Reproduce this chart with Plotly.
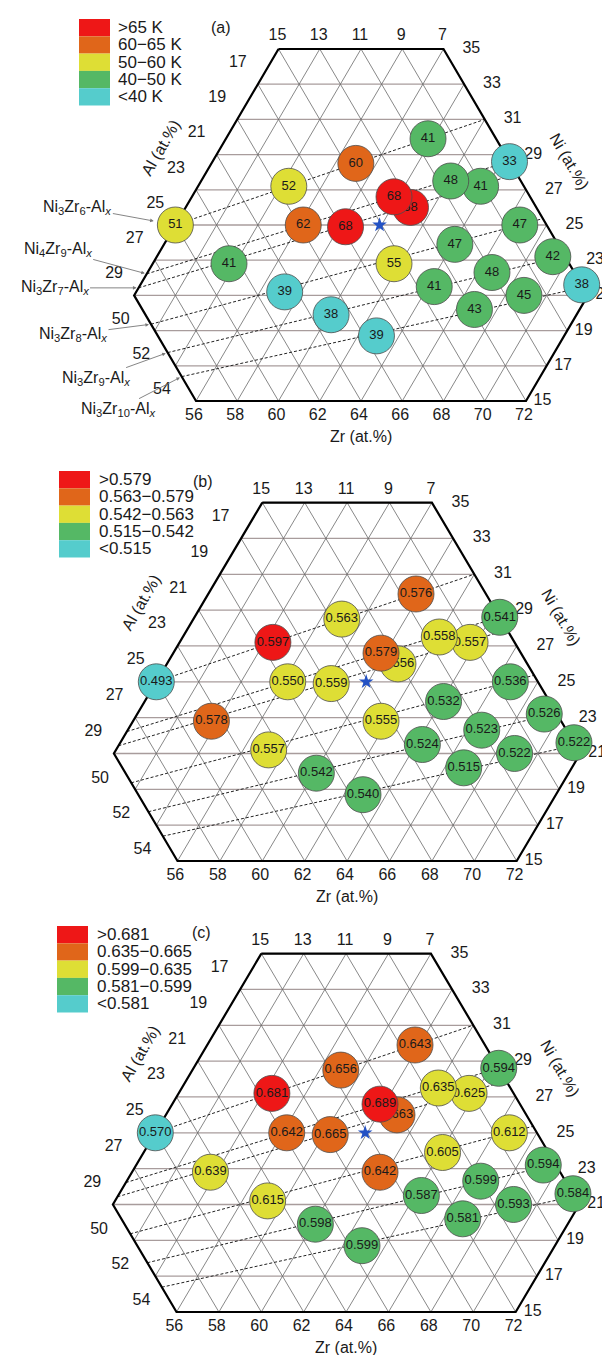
import plotly.graph_objects as go

W, H = 610, 1355
FONT = "Liberation Sans, Arial, sans-serif"

# ---------------- data ----------------
# composition window of the diagram (at.%)
ZR_RANGE = (50, 72)
NI_RANGE = (15, 35)
AL_RANGE = (7, 29)
GRID_STEP = 2

# tick labels
ni_ticks = [35, 33, 31, 29, 27, 25, 23, 21, 19, 17, 15]
al_top_ticks = [15, 13, 11, 9, 7]
al_left_ticks = [17, 19, 21, 23, 25, 27, 29]
zr_left_ticks = [50, 52, 54]
zr_bottom_ticks = [56, 58, 60, 62, 64, 66, 68, 70, 72]

# Ni_a Zr_b - Al_x composition lines
line_labels = ["Ni<sub>3</sub>Zr<sub>6</sub>-Al<sub><i>x</i></sub>",
               "Ni<sub>4</sub>Zr<sub>9</sub>-Al<sub><i>x</i></sub>",
               "Ni<sub>3</sub>Zr<sub>7</sub>-Al<sub><i>x</i></sub>",
               "Ni<sub>3</sub>Zr<sub>8</sub>-Al<sub><i>x</i></sub>",
               "Ni<sub>3</sub>Zr<sub>9</sub>-Al<sub><i>x</i></sub>",
               "Ni<sub>3</sub>Zr<sub>10</sub>-Al<sub><i>x</i></sub>"]
line_ni = [3, 4, 3, 3, 3, 3]
line_zr = [6, 9, 7, 8, 9, 10]

# sample compositions (at.%), in drawing order
sample_zr = [50.0, 54.4, 56.2, 57.0, 59.8, 64.4, 63.7, 62.1, 60.9, 59.8, 58.3, 66.7,
             64.1, 69.2, 61.7, 66.7, 71.4, 64.3, 68.9, 66.9, 60.1, 62.9, 53.7, 57.2]
sample_ni = [25.0, 27.2, 25.0, 28.5, 29.9, 28.6, 27.2, 27.5, 26.0, 26.6, 24.9, 25.0,
             23.9, 23.2, 22.8, 22.3, 21.6, 21.5, 21.0, 20.2, 19.9, 18.7, 22.8, 21.2]

# (a) Tc (K)
vals_a = [51, 52, 62, 60, 41, 33, 41, 48, 68, 68, 68, 47,
          47, 42, 55, 48, 38, 41, 45, 43, 38, 39, 41, 39]
cls_a = [2, 2, 1, 1, 3, 4, 3, 3, 0, 0, 0, 3,
         3, 3, 2, 3, 4, 3, 3, 3, 4, 4, 3, 4]
# (b)
vals_b = [0.493, 0.597, 0.550, 0.563, 0.576, 0.541, 0.557, 0.558, 0.556, 0.579, 0.559, 0.536,
          0.532, 0.526, 0.555, 0.523, 0.522, 0.524, 0.522, 0.515, 0.542, 0.540, 0.578, 0.557]
cls_b = [4, 0, 2, 2, 1, 3, 2, 2, 2, 1, 2, 3,
         3, 3, 2, 3, 3, 3, 3, 3, 3, 3, 1, 2]
# (c)
vals_c = [0.570, 0.681, 0.642, 0.656, 0.643, 0.594, 0.625, 0.635, 0.663, 0.689, 0.665, 0.612,
          0.605, 0.594, 0.642, 0.599, 0.584, 0.587, 0.593, 0.581, 0.598, 0.599, 0.639, 0.615]
cls_c = [4, 0, 1, 1, 1, 3, 2, 2, 1, 0, 1, 2,
         2, 3, 1, 3, 3, 3, 3, 3, 3, 3, 2, 2]

legend_a = [">65 K", "60\u221265 K", "50\u221260 K", "40\u221250 K", "<40 K"]
legend_b = [">0.579", "0.563\u22120.579", "0.542\u22120.563", "0.515\u22120.542", "<0.515"]
legend_c = [">0.681", "0.635\u22120.665", "0.599\u22120.635", "0.581\u22120.599", "<0.581"]

star_zr, star_ni = 59.9, 25.0

class_colors = ["#EE1717", "#E0661A", "#DEDE35", "#55B865", "#55CCCC"]

# ---------------- geometry helpers ----------------
def to_xy(zr, ni):
    k = (ni - NI_RANGE[0]) / GRID_STEP
    return zr + k, k


def clip_line(p0, d):
    bounds = [ZR_RANGE, NI_RANGE, AL_RANGE]
    lo, hi = -1e9, 1e9
    for i in range(3):
        a, b = bounds[i]
        if abs(d[i]) < 1e-12:
            if p0[i] < a - 1e-9 or p0[i] > b + 1e-9:
                return None
            continue
        t1 = (a - p0[i]) / d[i]
        t2 = (b - p0[i]) / d[i]
        lo = max(lo, min(t1, t2))
        hi = min(hi, max(t1, t2))
    if hi - lo < 1e-9:
        return None
    return [tuple(p0[j] + t * d[j] for j in range(3)) for t in (lo, hi)]


def seg_xy(seg):
    return [to_xy(c[0], c[1]) for c in seg]


zmin, zmax = ZR_RANGE
nmin, nmax = NI_RANGE
amin, amax = AL_RANGE
hex_comp = [(zmin, nmax), (100 - nmax - amin, nmax), (zmax, 100 - zmax - amin),
            (zmax, nmin), (100 - nmin - amax, nmin), (zmin, 100 - zmin - amax), (zmin, nmax)]

# panel pixel calibration (origin = Zr 56 / Ni 15 corner)
panels = [
    dict(ox=188.0, ux=20.625, oy=393.0, uk=35.2, top=0, bot=440,
         vals=vals_a, cls=cls_a, fmt="{:d}", legend=legend_a, tag="(a)",
         leg_x=71, leg_y=11, leg_tx=108, arrows=True),
    dict(ox=169.5, ux=21.2, oy=853.0, uk=35.84, top=440, bot=897,
         vals=vals_b, cls=cls_b, fmt="{:.3f}", legend=legend_b, tag="(b)",
         leg_x=51, leg_y=463, leg_tx=89, arrows=False),
    dict(ox=168.5, ux=21.2, oy=1304.0, uk=35.84, top=897, bot=1355,
         vals=vals_c, cls=cls_c, fmt="{:.3f}", legend=legend_c, tag="(c)",
         leg_x=49, leg_y=918, leg_tx=87, arrows=False),
]

fig = go.Figure()
layout = dict(width=W, height=H, margin=dict(l=0, r=0, t=0, b=0),
              paper_bgcolor="white", plot_bgcolor="white", showlegend=False,
              font=dict(family=FONT, color="#1a1a1a"))
shapes, annotations = [], []

# arrow offsets for labels of composition lines (pixels, text centre relative to line start)
arrow_ax = [-98, -89, -84, -78, -72, -64]
arrow_ay = [-18, -24, 0, 10, 26, 33]
arrow_standoff = [22, 2, 2, 2, 2, 2]

for p_i, P in enumerate(panels):
    sfx = "" if p_i == 0 else str(p_i + 1)
    xr = [56 - P["ox"] / P["ux"], 56 + (W - P["ox"]) / P["ux"]]
    yr = [(P["oy"] - P["bot"]) / P["uk"], (P["oy"] - P["top"]) / P["uk"]]
    layout["xaxis" + sfx] = dict(domain=[0, 1], range=xr, visible=False, fixedrange=True,
                                 anchor="y" + sfx)
    layout["yaxis" + sfx] = dict(domain=[1 - P["bot"] / H, 1 - P["top"] / H], range=yr,
                                 visible=False, fixedrange=True, anchor="x" + sfx)
    xa, ya = "x" + sfx, "y" + sfx

    # grid lines
    hx, hy, dx_, dy_ = [], [], [], []
    for c in range(nmin, nmax + 1, GRID_STEP):
        s = clip_line((0, c, 100 - c), (1, 0, -1))
        if s:
            pts = seg_xy(s)
            hx += [pts[0][0], pts[1][0], None]
            hy += [pts[0][1], pts[1][1], None]
    for c in range(zmin, zmax + 1, GRID_STEP):
        s = clip_line((c, 0, 100 - c), (0, 1, -1))
        if s:
            pts = seg_xy(s)
            dx_ += [pts[0][0], pts[1][0], None]
            dy_ += [pts[0][1], pts[1][1], None]
    for c in range(amin, amax + 1, GRID_STEP):
        s = clip_line((0, 100 - c, c), (1, -1, 0))
        if s:
            pts = seg_xy(s)
            dx_ += [pts[0][0], pts[1][0], None]
            dy_ += [pts[0][1], pts[1][1], None]
    fig.add_trace(go.Scatter(x=hx, y=hy, mode="lines", xaxis=xa, yaxis=ya,
                             line=dict(color="#a89c9c", width=1.3), hoverinfo="skip"))
    fig.add_trace(go.Scatter(x=dx_, y=dy_, mode="lines", xaxis=xa, yaxis=ya,
                             line=dict(color="#6a6a6a", width=0.8), hoverinfo="skip"))

    # dashed composition lines
    starts = []
    lx, ly = [], []
    for a, b in zip(line_ni, line_zr):
        s = clip_line((0, 0, 100), (b, a, -(a + b)))
        pts = seg_xy(s)
        starts.append(pts[0])
        lx += [pts[0][0], pts[1][0], None]
        ly += [pts[0][1], pts[1][1], None]
    fig.add_trace(go.Scatter(x=lx, y=ly, mode="lines", xaxis=xa, yaxis=ya,
                             line=dict(color="#222222", width=1, dash="3px,2px"),
                             hoverinfo="skip"))

    # hexagon outline
    hxy = [to_xy(z, n) for z, n in hex_comp]
    fig.add_trace(go.Scatter(x=[q[0] for q in hxy], y=[q[1] for q in hxy], mode="lines",
                             xaxis=xa, yaxis=ya, line=dict(color="black", width=2.2),
                             hoverinfo="skip"))

    # tick labels
    tx, ty, tt = [], [], []
    for ni in ni_ticks:
        k = (ni - nmin) / GRID_STEP
        x_up = (100 - ni - amin) + k
        x_lo = zmax + k
        if x_up < x_lo:
            tx.append(x_up + 1.35)
        elif x_up == x_lo:
            tx.append(x_up + 0.8)
        else:
            tx.append(x_lo + 0.8)
        ty.append(k)
        tt.append(str(ni))
    for al in al_left_ticks:
        x, k = to_xy(zmin, 100 - zmin - al)
        tx.append(x - 0.97); ty.append(k + 0.6); tt.append(str(al))
    for al in al_top_ticks:
        x, k = to_xy(100 - nmax - al, nmax)
        tx.append(x - 0.05); ty.append(k + 0.36); tt.append(str(al))
    for zr in zr_left_ticks:
        x, k = to_xy(zr, 100 - zr - amax)
        tx.append(x - 0.65); ty.append(k - 0.7); tt.append(str(zr))
    for zr in zr_bottom_ticks:
        x, k = to_xy(zr, nmin)
        tx.append(x - 0.1); ty.append(k - 0.43); tt.append(str(zr))
    fig.add_trace(go.Scatter(x=tx, y=ty, text=tt, mode="text", xaxis=xa, yaxis=ya,
                             textfont=dict(size=16, color="#1a1a1a", family=FONT),
                             cliponaxis=False, hoverinfo="skip"))

    # axis titles
    annotations.append(dict(x=64, y=-1.0, xref=xa, yref=ya, text="Zr (at.%)", showarrow=False,
                            font=dict(size=16, family=FONT, color="#1a1a1a")))
    k_al = 7.2
    annotations.append(dict(x=zmin + k_al - 2.9, y=k_al, xref=xa, yref=ya, text="Al (at.%)",
                            showarrow=False, textangle=-60,
                            font=dict(size=16, family=FONT, color="#1a1a1a")))
    k_ni = 6.8
    annotations.append(dict(x=(100 - amin - nmin) - k_ni + 2.9 - (nmin - 15), y=k_ni,
                            xref=xa, yref=ya, text="Ni (at.%)",
                            showarrow=False, textangle=60,
                            font=dict(size=16, family=FONT, color="#1a1a1a")))
    annotations.append(dict(x=57.2, y=10.6, xref=xa, yref=ya, text=P["tag"], showarrow=False,
                            font=dict(size=16, family=FONT, color="#1a1a1a")))

    # sample circles (one trace each so later circles hide earlier labels)
    for zr, ni, v, c in zip(sample_zr, sample_ni, P["vals"], P["cls"]):
        x, k = to_xy(zr, ni)
        fig.add_trace(go.Scatter(
            x=[x], y=[k], mode="markers+text", xaxis=xa, yaxis=ya,
            text=[P["fmt"].format(v)], textposition="middle center",
            textfont=dict(size=13, color="#1a1a1a", family=FONT),
            marker=dict(size=36, color=class_colors[c], line=dict(color="#4d4d4d", width=0.8)),
            cliponaxis=False, hoverinfo="skip"))

    # star
    sx, sk = to_xy(star_zr, star_ni)
    fig.add_trace(go.Scatter(x=[sx], y=[sk], mode="markers", xaxis=xa, yaxis=ya,
                             marker=dict(symbol="star", size=11, color="#2452c4"),
                             hoverinfo="skip"))

    # legend
    for r, (lab, col) in enumerate(zip(P["legend"], class_colors)):
        y0 = P["leg_y"] + r * 17.3
        shapes.append(dict(type="rect", xref="paper", yref="paper",
                           x0=P["leg_x"] / W, x1=(P["leg_x"] + 31) / W,
                           y0=1 - (y0 + 17.3) / H, y1=1 - y0 / H,
                           fillcolor=col, line=dict(width=0)))
        annotations.append(dict(x=P["leg_tx"] / W, y=1 - (y0 + 8.6) / H, xref="paper",
                                yref="paper", text=lab, showarrow=False, xanchor="left",
                                yanchor="middle",
                                font=dict(size=17, family=FONT, color="#1a1a1a")))

    # arrows naming composition lines
    if P["arrows"]:
        for lab, st, ax, ay, so in zip(line_labels, starts, arrow_ax, arrow_ay, arrow_standoff):
            annotations.append(dict(x=st[0], y=st[1], xref=xa, yref=ya, text=lab,
                                    showarrow=True, ax=ax, ay=ay, arrowhead=2, arrowsize=0.8,
                                    arrowwidth=0.9, arrowcolor="#777777", standoff=so,
                                    font=dict(size=16, family=FONT, color="#1a1a1a")))

layout["shapes"] = shapes
layout["annotations"] = annotations
fig.update_layout(**layout)
fig.write_html("out.html")
